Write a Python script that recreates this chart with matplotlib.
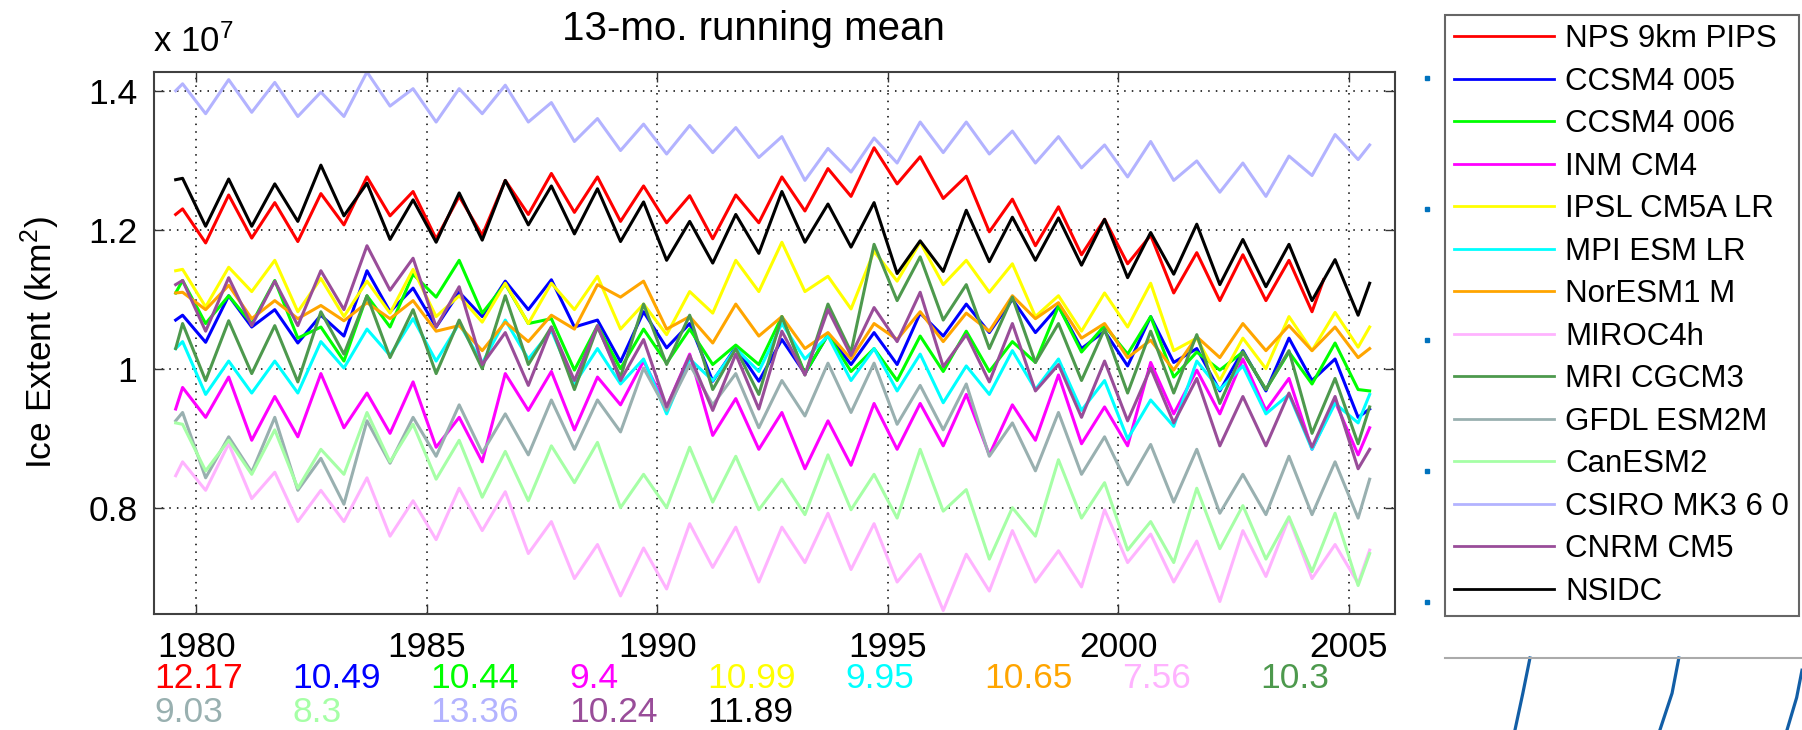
import numpy as np
import matplotlib
matplotlib.use("Agg")
import matplotlib.pyplot as plt
from matplotlib import transforms

plt.rcParams['font.family'] = ['Liberation Sans', 'DejaVu Sans']
plt.rcParams['mathtext.fontset'] = 'custom'
plt.rcParams['mathtext.rm'] = 'Liberation Sans'
plt.rcParams['mathtext.it'] = 'Liberation Sans:italic'

# ---------------- data (units of 10^7 km^2) ----------------
# time grid: first sample, then alternating peak (~x.7) / trough (~x.2), last sample
PEAK_TROUGH_TIMES = np.arange(1979.7, 2005.21, 0.5)
TIME = np.concatenate([[1979.55], PEAK_TROUGH_TIMES, [2005.45]])
NPS_TIME = np.concatenate([TIME[:51], [2004.45]])

NPS = [1.222, 1.23, 1.181, 1.25, 1.188, 1.239, 1.183, 1.252, 1.207, 1.276, 1.22, 1.255, 1.187, 1.248,
       1.192, 1.271, 1.222, 1.281, 1.225, 1.276, 1.212, 1.263, 1.21, 1.249, 1.187, 1.25, 1.21,
       1.276, 1.227, 1.288, 1.248, 1.318, 1.266, 1.305, 1.245, 1.277, 1.197, 1.244, 1.177, 1.233, 1.164,
       1.215, 1.151, 1.192, 1.109, 1.167, 1.098, 1.164, 1.098, 1.156, 1.082, 1.128]
CCSM4_005 = [1.07, 1.077, 1.038, 1.105, 1.06, 1.085, 1.037, 1.077, 1.047, 1.141, 1.082, 1.116, 1.06, 1.11,
             1.075, 1.126, 1.085, 1.128, 1.06, 1.07, 1.01, 1.082, 1.03, 1.065, 0.982, 1.031, 0.982,
             1.042, 0.993, 1.049, 1.006, 1.052, 1.006, 1.08, 1.047, 1.093, 1.052, 1.1, 1.052, 1.09, 1.029,
             1.054, 1.004, 1.075, 1.009, 1.029, 0.968, 1.026, 0.968, 1.044, 0.983, 1.014, 0.93, 0.942]
CCSM4_006 = [1.109, 1.127, 1.065, 1.105, 1.065, 1.127, 1.044, 1.06, 1.011, 1.105, 1.06, 1.136, 1.103, 1.156,
             1.08, 1.122, 1.065, 1.072, 0.998, 1.062, 1.0, 1.057, 1.008, 1.057, 1.006, 1.034, 1.006,
             1.075, 0.993, 1.049, 0.996, 1.029, 0.983, 1.047, 0.996, 1.054, 0.996, 1.039, 1.009, 1.09, 1.024,
             1.062, 1.021, 1.075, 0.988, 1.024, 0.998, 1.024, 0.97, 1.024, 0.978, 1.037, 0.97, 0.968]
INM_CM4 = [0.942, 0.973, 0.93, 0.988, 0.897, 0.96, 0.902, 0.993, 0.915, 0.965, 0.907, 0.981, 0.887, 0.93,
           0.866, 0.993, 0.94, 0.996, 0.912, 0.988, 0.948, 1.011, 0.945, 1.021, 0.904, 0.957, 0.884,
           0.937, 0.856, 0.925, 0.861, 0.95, 0.884, 0.95, 0.889, 0.963, 0.876, 0.948, 0.897, 0.991, 0.892,
           0.945, 0.889, 1.009, 0.935, 0.998, 0.935, 1.014, 0.94, 0.986, 0.884, 0.953, 0.876, 0.915]
IPSL = [1.141, 1.143, 1.089, 1.146, 1.111, 1.156, 1.082, 1.13, 1.075, 1.126, 1.08, 1.143, 1.075, 1.105,
        1.067, 1.123, 1.065, 1.123, 1.085, 1.133, 1.057, 1.093, 1.049, 1.111, 1.08, 1.156, 1.111,
        1.182, 1.111, 1.133, 1.086, 1.169, 1.126, 1.182, 1.121, 1.156, 1.11, 1.151, 1.075, 1.105, 1.054,
        1.109, 1.06, 1.123, 1.026, 1.044, 0.983, 1.044, 1.0, 1.075, 1.026, 1.081, 1.031, 1.06]
MPI = [1.029, 1.039, 0.963, 1.011, 0.965, 1.011, 0.965, 1.039, 1.001, 1.057, 1.019, 1.072, 1.011, 1.065,
       1.008, 1.07, 1.014, 1.055, 0.978, 1.029, 0.978, 1.014, 0.935, 1.014, 0.983, 1.029, 0.996,
       1.065, 1.014, 1.047, 0.983, 1.029, 0.968, 1.021, 0.951, 1.004, 0.963, 1.026, 0.97, 1.014, 0.94,
       0.983, 0.899, 0.955, 0.917, 1.011, 0.97, 1.004, 0.935, 0.963, 0.884, 0.95, 0.922, 0.963]
NORESM = [1.109, 1.11, 1.085, 1.12, 1.072, 1.098, 1.072, 1.091, 1.069, 1.095, 1.072, 1.098, 1.054, 1.062,
          1.026, 1.067, 1.039, 1.077, 1.057, 1.121, 1.103, 1.126, 1.057, 1.075, 1.037, 1.093, 1.047,
          1.075, 1.029, 1.052, 1.014, 1.065, 1.042, 1.082, 1.039, 1.08, 1.054, 1.105, 1.072, 1.095, 1.044,
          1.065, 1.016, 1.041, 0.998, 1.046, 1.016, 1.065, 1.026, 1.062, 1.026, 1.06, 1.016, 1.029]
MIROC = [0.846, 0.866, 0.825, 0.892, 0.813, 0.851, 0.78, 0.825, 0.78, 0.843, 0.759, 0.81, 0.754, 0.828,
         0.767, 0.823, 0.734, 0.78, 0.698, 0.747, 0.673, 0.742, 0.683, 0.777, 0.714, 0.772, 0.693,
         0.772, 0.721, 0.792, 0.711, 0.777, 0.693, 0.733, 0.652, 0.733, 0.68, 0.767, 0.693, 0.738, 0.686,
         0.797, 0.721, 0.762, 0.693, 0.752, 0.665, 0.767, 0.701, 0.785, 0.698, 0.747, 0.691, 0.739]
MRI = [1.029, 1.065, 0.983, 1.069, 0.993, 1.062, 0.981, 1.082, 1.021, 1.105, 1.016, 1.085, 0.993, 1.07,
       1.0, 1.105, 1.006, 1.06, 0.97, 1.06, 0.988, 1.093, 1.006, 1.077, 0.97, 1.029, 0.963,
       1.075, 0.991, 1.093, 1.024, 1.179, 1.098, 1.161, 1.07, 1.121, 1.029, 1.103, 1.009, 1.065, 0.983,
       1.057, 0.965, 1.054, 0.965, 1.049, 0.95, 1.024, 0.97, 1.026, 0.907, 0.986, 0.892, 0.945]
GFDL = [0.925, 0.937, 0.843, 0.902, 0.851, 0.93, 0.825, 0.871, 0.805, 0.925, 0.864, 0.93, 0.874, 0.948,
        0.879, 0.935, 0.876, 0.955, 0.884, 0.955, 0.909, 1.001, 0.94, 1.006, 0.948, 0.993, 0.915,
        0.983, 0.932, 1.008, 0.937, 1.008, 0.92, 0.976, 0.912, 0.978, 0.874, 0.922, 0.853, 0.937, 0.848,
        0.902, 0.833, 0.891, 0.808, 0.884, 0.792, 0.848, 0.79, 0.874, 0.79, 0.866, 0.785, 0.841]
CANESM = [0.922, 0.92, 0.853, 0.897, 0.848, 0.912, 0.828, 0.884, 0.848, 0.937, 0.866, 0.92, 0.841, 0.897,
          0.815, 0.881, 0.81, 0.889, 0.836, 0.894, 0.8, 0.848, 0.8, 0.887, 0.808, 0.874, 0.797,
          0.841, 0.79, 0.876, 0.797, 0.848, 0.785, 0.884, 0.795, 0.826, 0.726, 0.8, 0.759, 0.869, 0.785,
          0.836, 0.739, 0.78, 0.721, 0.828, 0.741, 0.803, 0.726, 0.787, 0.708, 0.792, 0.688, 0.734]
CSIRO = [1.40, 1.41, 1.367, 1.416, 1.369, 1.412, 1.363, 1.398, 1.363, 1.427, 1.378, 1.403, 1.355, 1.403,
         1.367, 1.408, 1.355, 1.383, 1.327, 1.36, 1.314, 1.352, 1.309, 1.35, 1.311, 1.347, 1.304,
         1.334, 1.271, 1.317, 1.283, 1.332, 1.296, 1.355, 1.311, 1.355, 1.309, 1.342, 1.296, 1.334, 1.289,
         1.322, 1.276, 1.327, 1.271, 1.299, 1.254, 1.296, 1.248, 1.306, 1.278, 1.337, 1.301, 1.322]
CNRM = [1.121, 1.127, 1.054, 1.131, 1.062, 1.126, 1.062, 1.141, 1.085, 1.177, 1.113, 1.159, 1.06, 1.118,
        1.006, 1.052, 0.976, 1.06, 0.983, 1.062, 0.983, 1.042, 0.945, 1.019, 0.94, 1.021, 0.942,
        1.054, 0.991, 1.085, 1.019, 1.088, 1.039, 1.11, 1.003, 1.049, 0.981, 1.065, 0.968, 1.006, 0.93,
        1.011, 0.925, 1.001, 0.922, 0.986, 0.889, 0.96, 0.889, 0.965, 0.887, 0.96, 0.856, 0.884]
NSIDC = [1.272, 1.274, 1.205, 1.273, 1.205, 1.266, 1.212, 1.293, 1.22, 1.267, 1.186, 1.243, 1.182, 1.253,
         1.185, 1.271, 1.207, 1.263, 1.194, 1.259, 1.183, 1.24, 1.156, 1.212, 1.152, 1.222, 1.166,
         1.255, 1.182, 1.237, 1.175, 1.239, 1.137, 1.184, 1.14, 1.228, 1.154, 1.218, 1.156, 1.217, 1.149,
         1.215, 1.131, 1.196, 1.136, 1.208, 1.121, 1.186, 1.118, 1.179, 1.098, 1.157, 1.077, 1.123]

SERIES_NAMES = ['NPS 9km PIPS', 'CCSM4 005', 'CCSM4 006', 'INM CM4', 'IPSL CM5A LR', 'MPI ESM LR',
                'NorESM1 M', 'MIROC4h', 'MRI CGCM3', 'GFDL ESM2M', 'CanESM2', 'CSIRO MK3 6 0',
                'CNRM CM5', 'NSIDC']
SERIES_VALUES = [NPS, CCSM4_005, CCSM4_006, INM_CM4, IPSL, MPI, NORESM, MIROC, MRI, GFDL, CANESM,
                 CSIRO, CNRM, NSIDC]
SERIES_COLORS = ['#FF0000', '#0000FF', '#00FF00', '#FF00FF', '#FFFF00', '#00FFFF', '#FFA500',
                 '#FFB3FF', '#4D994D', '#99B0B0', '#A6FFA6', '#B3B3FF', '#994D99', '#000000']
MEAN_EXTENT = [12.17, 10.49, 10.44, 9.4, 10.99, 9.95, 10.65, 7.56, 10.3, 9.03, 8.3, 13.36, 10.24, 11.89]

X_TICKS = [1980, 1985, 1990, 1995, 2000, 2005]
Y_TICKS = [0.8, 1.0, 1.2, 1.4]
Y_TICK_LABELS = ['0.8', '1', '1.2', '1.4']

# neighbouring-panel fragments at the right edge
SIDE_TICKS = [0, 1, 2, 3, 4]
FRAG_LINES = [([0.196, 0.218, 0.238], [0.0, 0.51, 1.0]),
              ([0.602, 0.636, 0.655], [0.0, 0.51, 1.0]),
              ([0.958, 0.985, 1.0], [0.0, 0.45, 0.83])]

# ---------------- figure ----------------
W, H = 1802, 730
fig = plt.figure(figsize=(W / 100, H / 100), dpi=100)


def fx(px):
    return px / W


def fy(py):
    return 1 - py / H


ax_l, ax_r, ax_t, ax_b = 154, 1395, 72, 614
ax = fig.add_axes([fx(ax_l), fy(ax_b), fx(ax_r - ax_l), (ax_b - ax_t) / H])

handles = []
for i, (name, vals, col) in enumerate(zip(SERIES_NAMES, SERIES_VALUES, SERIES_COLORS)):
    t = NPS_TIME if name == 'NPS 9km PIPS' else TIME
    ln, = ax.plot(t, vals, color=col, lw=2.2, solid_joinstyle='round', zorder=2 + i * 0.01)
    handles.append(ln)

ax.set_xlim(1979.08, 2006.0)
ax.set_ylim(0.647, 1.427)
ax.set_xticks(X_TICKS)
ax.set_xticklabels([str(x) for x in X_TICKS])
ax.set_yticks(Y_TICKS)
ax.set_yticklabels(Y_TICK_LABELS)
ax.tick_params(direction='in', length=7, width=1.0, labelsize=25.5, top=True, right=True,
               color='#333333', labelcolor='black')
ax.tick_params(axis='x', pad=12)
ax.tick_params(axis='y', pad=12)
ax.grid(True, color='black', linestyle=(0, (1, 4)), linewidth=1.1)
for s in ax.spines.values():
    s.set_color('#404040')
    s.set_linewidth(1.5)

ax.set_ylabel('Ice Extent (km$^2$)', fontsize=25.5)
ax.yaxis.set_label_coords((62 - ax_l) / (ax_r - ax_l), 0.5)

fig.text(fx(753), fy(29), '13-mo. running mean', fontsize=29, ha='center', va='center')
fig.text(fx(153), fy(52), r'x 10$^{7}$', fontsize=25, ha='left', va='baseline')

# mean values printed under the axis, colour-coded
blend = transforms.blended_transform_factory(ax.transData, fig.transFigure)
x0 = ax.get_xlim()[0]
for k, (val, col) in enumerate(zip(MEAN_EXTENT, SERIES_COLORS)):
    row, colidx = divmod(k, 9)
    ty = fy(679) if row == 0 else fy(712)
    ax.text(x0 + 3.0 * colidx, ty, '%g' % val, color=col, fontsize=25.5, ha='left', va='center',
            transform=blend, clip_on=False)

# legend
leg = fig.legend(handles, SERIES_NAMES, loc='upper left', bbox_to_anchor=(fx(1445), fy(15)),
                 fontsize=22.5, frameon=True, fancybox=False, borderpad=0.3, labelspacing=0.40,
                 handlelength=3.2, handletextpad=0.35, borderaxespad=0.0)
leg.get_frame().set_edgecolor('#404040')
leg.get_frame().set_linewidth(1.5)
for lh in leg.get_lines():
    lh.set_linewidth(2.0)

# small tick marks of a neighbouring panel
ax3 = fig.add_axes([fx(1420), fy(602), fx(14), (602 - 78) / H])
ax3.plot([0] * len(SIDE_TICKS), SIDE_TICKS, 's', ms=2.6, color='#0072BD', clip_on=False)
ax3.set_xlim(-1, 1)
ax3.set_ylim(0, 4)
ax3.axis('off')

# top of a neighbouring panel at the bottom right
ax2 = fig.add_axes([fx(1445), 0, fx(1802 - 1445), (730 - 658) / H])
for xs, ys in FRAG_LINES:
    ax2.plot(xs, ys, color='#125EA6', lw=2.3, clip_on=False)
ax2.set_xlim(0, 1)
ax2.set_ylim(0, 1)
ax2.set_xticks([])
ax2.set_yticks([])
for k, s in ax2.spines.items():
    s.set_visible(k == 'top')
ax2.spines['top'].set_color('#AAAAAA')
ax2.spines['top'].set_linewidth(1.5)

fig.savefig('out.png', dpi=100)
